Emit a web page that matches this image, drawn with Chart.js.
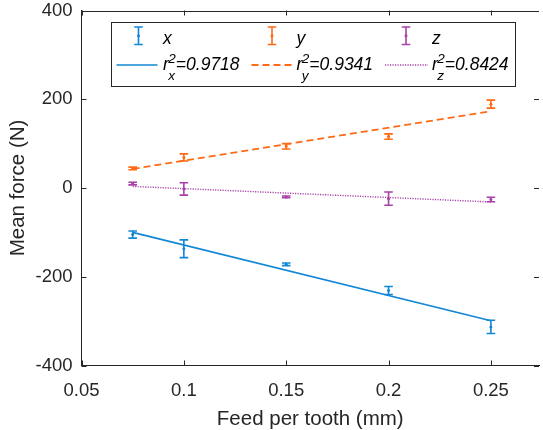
<!DOCTYPE html>
<html>
<head>
<meta charset="utf-8">
<title>Mean force vs feed per tooth</title>
<script src="https://cdn.jsdelivr.net/npm/chart.js@4.4.1/dist/chart.umd.min.js"></script>
<style>
  html, body { margin: 0; padding: 0; background: #ffffff; }
  #wrap { width: 543px; height: 430px; position: relative; }
</style>
</head>
<body>
<div id="wrap"><canvas id="forceChart"></canvas></div>
<script>
// measured mean forces per feed, with error half-widths
const feed = [0.075, 0.1, 0.15, 0.2, 0.25];
const forceX = [-105, -137, -172, -231, -313];
const errX = [8, 20, 3, 9, 15];
const forceY = [44, 69, 94, 116, 189];
const errY = [3, 8, 6, 6, 9];
const forceZ = [10, -2, -20, -24, -26];
const errZ = [3, 14, 2, 15, 5];

// linear fits (end points) and their r^2
const fitFeed = [0.075, 0.25];
const fitX = [-100, -299];
const fitY = [43, 173];
const fitZ = [3.6, -31.5];
const r2Labels = ["0.9718", "0.9341", "0.8424"];
const axisNames = ["x", "y", "z"];

const xTicks = [0.05, 0.1, 0.15, 0.2, 0.25];
const yTicks = [-400, -200, 0, 200, 400];

const AXIS_COLOR = "#262626";
const FONT = "'Liberation Sans', Arial, Helvetica, sans-serif";
const colors = ["#1287d6", "#ff6a14", "#a842a8"];
const dashes = [[], [7, 4], [1.2, 1.3]];
const fitWidths = [1.6, 1.8, 1.4];

const series = [
  { values: forceX, errors: errX, fit: fitX },
  { values: forceY, errors: errY, fit: fitY },
  { values: forceZ, errors: errZ, fit: fitZ }
];

function toPoints(xs, ys) {
  return xs.map((v, i) => ({ x: v, y: ys[i] }));
}

const datasets = [];
series.forEach((s, i) => {
  datasets.push({
    type: "line",
    data: toPoints(fitFeed, s.fit),
    borderColor: colors[i],
    borderWidth: fitWidths[i],
    borderDash: dashes[i],
    pointRadius: 0,
    fill: false,
    order: 2
  });
});
series.forEach((s, i) => {
  datasets.push({
    type: "scatter",
    data: toPoints(feed, s.values),
    backgroundColor: colors[i],
    borderColor: colors[i],
    pointRadius: 1.5,
    borderWidth: 0,
    order: 1
  });
});

function drawErrorBar(ctx, px, top, bottom, color) {
  const cap = 4.3;
  ctx.strokeStyle = color;
  ctx.lineWidth = 1.6;
  ctx.beginPath();
  ctx.moveTo(px, top);
  ctx.lineTo(px, bottom);
  ctx.moveTo(px - cap, top);
  ctx.lineTo(px + cap, top);
  ctx.moveTo(px - cap, bottom);
  ctx.lineTo(px + cap, bottom);
  ctx.stroke();
}

const errorBars = {
  id: "errorBars",
  afterDatasetsDraw(chart) {
    const { ctx, scales: { x, y } } = chart;
    ctx.save();
    series.forEach((s, i) => {
      feed.forEach((f, k) => {
        const px = x.getPixelForValue(f);
        const top = y.getPixelForValue(s.values[k] + s.errors[k]);
        const bottom = y.getPixelForValue(s.values[k] - s.errors[k]);
        drawErrorBar(ctx, px, top, bottom, colors[i]);
      });
    });
    ctx.restore();
  }
};

// box on top, inward tick marks on all four sides
const axesBox = {
  id: "axesBox",
  afterDraw(chart) {
    const { ctx, chartArea: a, scales: { x, y } } = chart;
    const len = 5;
    ctx.save();
    ctx.strokeStyle = AXIS_COLOR;
    ctx.lineWidth = 1;
    ctx.beginPath();
    ctx.moveTo(a.left, Math.round(a.top) + 0.5);
    ctx.lineTo(a.right, Math.round(a.top) + 0.5);
    xTicks.forEach(v => {
      const px = Math.round(x.getPixelForValue(v)) + 0.5;
      ctx.moveTo(px, a.bottom);
      ctx.lineTo(px, a.bottom - len);
      ctx.moveTo(px, a.top);
      ctx.lineTo(px, a.top + len);
    });
    yTicks.forEach(v => {
      const py = Math.round(y.getPixelForValue(v)) + 0.5;
      ctx.moveTo(a.left, py);
      ctx.lineTo(a.left + len, py);
      ctx.moveTo(a.right, py);
      ctx.lineTo(a.right - len, py);
    });
    ctx.stroke();
    ctx.restore();
  }
};

// legend: error-bar row and fit row with r^2 labels
const legendBox = {
  id: "legendBox",
  afterDraw(chart) {
    const ctx = chart.ctx;
    const box = { left: 111.5, top: 22.5, right: 515.5, bottom: 86.5 };
    const iconX = [138.5, 272, 406];
    const textX = [163, 296.5, 432];
    const lineStart = [116.5, 251.5, 385];
    const lineEnd = [157.5, 293, 428];
    const mainFont = "italic 17.5px " + FONT;
    const scriptFont = "italic 13.5px " + FONT;
    ctx.save();
    ctx.fillStyle = "#ffffff";
    ctx.fillRect(box.left, box.top, box.right - box.left, box.bottom - box.top);
    ctx.strokeStyle = AXIS_COLOR;
    ctx.lineWidth = 1;
    ctx.strokeRect(box.left, box.top, box.right - box.left, box.bottom - box.top);

    ctx.textBaseline = "alphabetic";
    ctx.textAlign = "left";
    for (let i = 0; i < 3; i += 1) {
      drawErrorBar(ctx, iconX[i], 27, 44.5, colors[i]);
      ctx.fillStyle = colors[i];
      ctx.beginPath();
      ctx.arc(iconX[i], 35.7, 1.5, 0, Math.PI * 2);
      ctx.fill();

      ctx.fillStyle = "#000000";
      ctx.font = mainFont;
      ctx.fillText(axisNames[i], textX[i], 43.5);

      ctx.strokeStyle = colors[i];
      ctx.lineWidth = fitWidths[i];
      ctx.setLineDash(dashes[i]);
      ctx.beginPath();
      ctx.moveTo(lineStart[i], 65);
      ctx.lineTo(lineEnd[i], 65);
      ctx.stroke();
      ctx.setLineDash([]);

      ctx.fillStyle = "#000000";
      ctx.font = mainFont;
      ctx.fillText("r", textX[i], 70);
      const scriptX = textX[i] + ctx.measureText("r").width - 0.5;
      ctx.font = scriptFont;
      ctx.fillText("2", scriptX, 62.5);
      ctx.fillText(axisNames[i], scriptX, 80);
      const restX = scriptX + Math.max(ctx.measureText("2").width, ctx.measureText(axisNames[i]).width);
      ctx.font = mainFont;
      ctx.fillText("=" + r2Labels[i], restX, 70);
    }
    ctx.restore();
  }
};

Chart.defaults.font.family = FONT;
Chart.defaults.color = AXIS_COLOR;

new Chart(document.getElementById("forceChart"), {
  data: { datasets },
  plugins: [errorBars, axesBox, legendBox],
  options: {
    responsive: true,
    maintainAspectRatio: false,
    animation: false,
    devicePixelRatio: 1,
    layout: { padding: { top: 10.5, right: 0, bottom: 0, left: 0 } },
    plugins: {
      legend: { display: false },
      tooltip: { enabled: false }
    },
    scales: {
      x: {
        type: "linear",
        min: 0.05,
        max: 0.2735,
        afterBuildTicks: scale => { scale.ticks = xTicks.map(v => ({ value: v })); },
        afterFit: scale => { scale.height = 64.5; },
        ticks: {
          font: { size: 18.5 },
          color: AXIS_COLOR,
          padding: 14,
          maxRotation: 0,
          callback: value => String(value)
        },
        grid: { display: false, drawTicks: false },
        border: { display: true, color: AXIS_COLOR, width: 1 },
        title: {
          display: true,
          text: "Feed per tooth (mm)",
          font: { size: 20.5 },
          color: AXIS_COLOR,
          padding: { top: 0, bottom: -2 }
        }
      },
      y: {
        type: "linear",
        min: -400,
        max: 400,
        afterBuildTicks: scale => { scale.ticks = yTicks.map(v => ({ value: v })); },
        afterFit: scale => {
          scale.width = 81.5;
          scale.paddingTop = 0;
          scale.paddingBottom = 0;
        },
        ticks: {
          font: { size: 18.5 },
          color: AXIS_COLOR,
          padding: 9,
          callback: value => String(value)
        },
        grid: { display: false, drawTicks: false },
        border: { display: true, color: AXIS_COLOR, width: 1 },
        title: {
          display: true,
          text: "Mean force (N)",
          font: { size: 20.5 },
          color: AXIS_COLOR,
          padding: { top: 6, bottom: 0 }
        }
      }
    }
  }
});
</script>
</body>
</html>
